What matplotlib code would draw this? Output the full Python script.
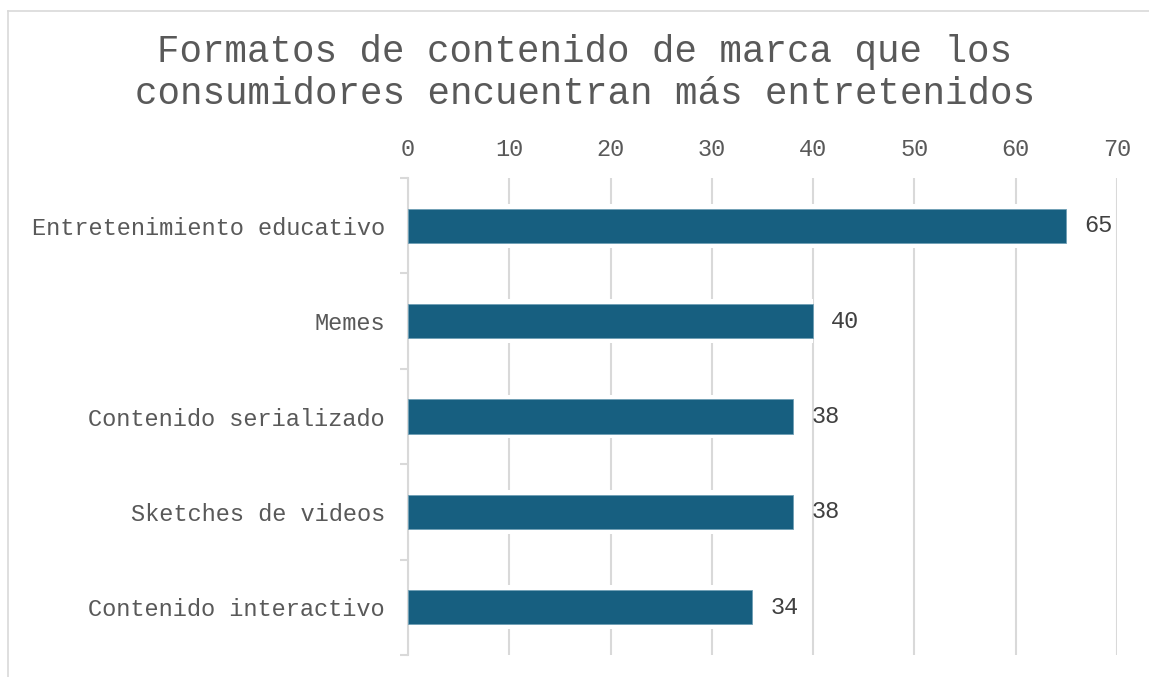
import matplotlib as mat
mat.use('agg')
import matplotlib.pyplot as plt
from matplotlib.lines import Line2D

# content formats and share of consumers (%)
formatos = ["Entretenimiento educativo", "Memes", "Contenido serializado",
            "Sketches de videos", "Contenido interactivo"]
porcentajes = [65, 40, 38, 38, 34]
ticks_x = [0, 10, 20, 30, 40, 50, 60, 70]

titulo = "Formatos de contenido de marca que los\nconsumidores encuentran más entretenidos"

plt.rcParams['font.family'] = ['Liberation Mono', 'DejaVu Sans Mono']

BAR_COLOR = "#175f80"
GRID = "#d9d9d9"
TEXT = "#595959"

fig = plt.figure(figsize=(11.49, 6.77), dpi=100)
ax = fig.add_axes([0.355, 0.0325, 0.6172, 0.7045])

pos = list(range(len(formatos)))
# white band behind each bar so the gridlines stop short of it
ax.barh(pos, porcentajes, height=0.46, color="white", zorder=2)
ax.barh(pos, porcentajes, height=0.36, color=BAR_COLOR,
        edgecolor="#6f9fb5", linewidth=0.6, zorder=3)

for y, v in zip(pos, porcentajes):
    ax.text(v + 1.8, y, str(v), va="center", ha="left",
            fontsize=17, color="#404040", zorder=4)

ax.set_xlim(0, 70)
ax.set_ylim(len(formatos) - 0.5, -0.5)
ax.set_xticks(ticks_x)
ax.xaxis.tick_top()
ax.tick_params(axis="x", length=0, pad=12, labelsize=17, labelcolor=TEXT)

ax.set_yticks(pos)
ax.set_yticklabels(formatos)
ax.tick_params(axis="y", which="major", length=0, pad=16.5,
               labelsize=17, labelcolor=TEXT)
ax.set_yticks([p - 0.5 for p in pos] + [len(formatos) - 0.5], minor=True)
ax.tick_params(axis="y", which="minor", length=6, width=1.5, color=GRID)

ax.grid(axis="x", color=GRID, linewidth=1.5, zorder=1)
ax.set_axisbelow(True)
for side in ["top", "right", "bottom"]:
    ax.spines[side].set_visible(False)
ax.spines["left"].set_color(GRID)
ax.spines["left"].set_linewidth(1.5)

fig.text(0.509, 0.892, titulo, ha="center", va="center",
         fontsize=27, color=TEXT, linespacing=1.2)

# light frame around the chart area
fig.add_artist(Line2D([8 / 1149, 8 / 1149], [0, 1 - 11 / 677],
                      transform=fig.transFigure, color=GRID, linewidth=1.2))
fig.add_artist(Line2D([8 / 1149, 1], [1 - 11 / 677, 1 - 11 / 677],
                      transform=fig.transFigure, color=GRID, linewidth=1.2))

fig.savefig("out.png", dpi=100)
